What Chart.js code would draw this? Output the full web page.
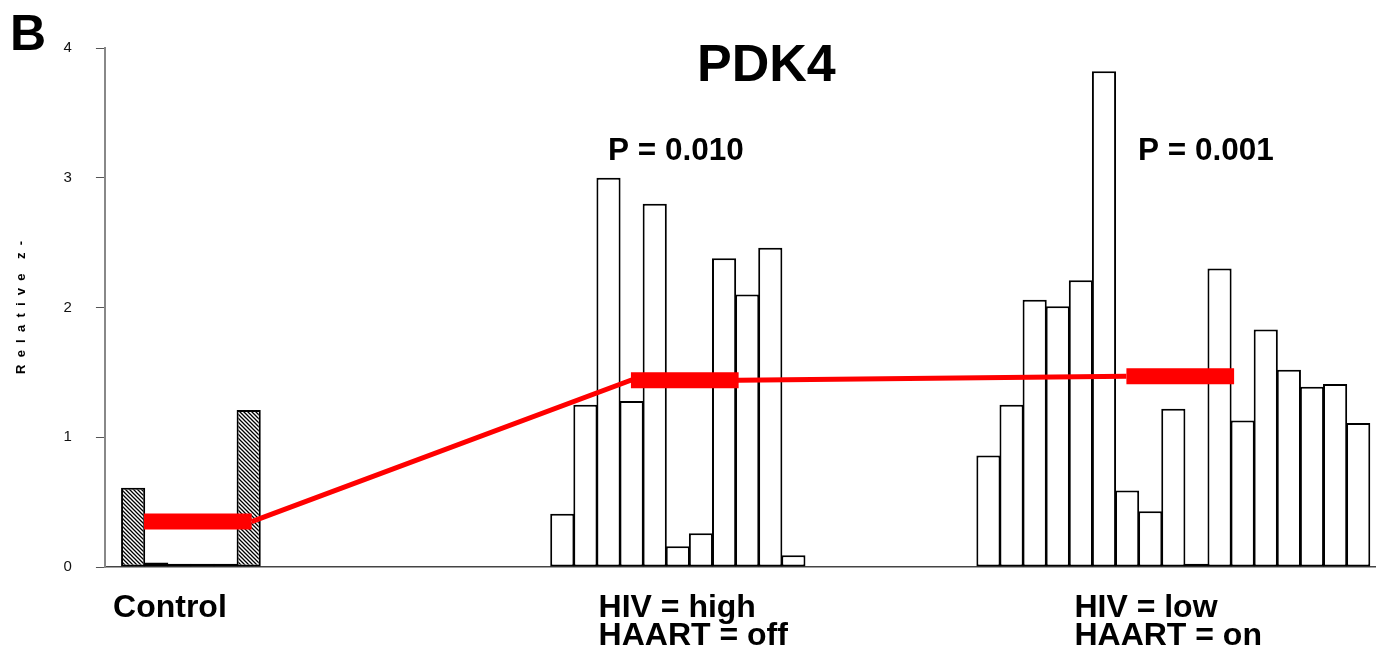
<!DOCTYPE html>
<html>
<head>
<meta charset="utf-8">
<script src="https://cdn.jsdelivr.net/npm/chart.js@4.4.1/dist/chart.umd.min.js"></script>
<style>
  html, body { margin: 0; padding: 0; background: #fff; }
  #wrap { width: 1376px; height: 653px; position: relative; }
</style>
</head>
<body>
<div id="wrap"><canvas id="pdk4"></canvas></div>
<script>
// values (relative z-score per subject)
const controlValues = [0.61, 0.035, 0.025, 0.025, 0.025, 1.21];
const hivHighValues = [0.41, 1.25, 3.00, 1.28, 2.80, 0.16, 0.26, 2.38, 2.10, 2.46, 0.09];
const hivLowValues = [0.86, 1.25, 2.06, 2.01, 2.21, 3.82, 0.59, 0.43, 1.22, 0.025, 2.30, 1.13, 1.83, 1.52, 1.39, 1.41, 1.11];
const groupMeans = [0.35, 1.44, 1.47];
// where each group of bars starts on the x axis (one unit = one bar)
const groupStart = [0.72, 19.29, 37.73];
const groupLabels = [['Control'], ['HIV = high', 'HAART = off'], ['HIV = low', 'HAART = on']];
const pValues = ['P = 0.010', 'P = 0.001'];
const yTicks = [0, 1, 2, 3, 4];

Chart.defaults.font.family = '"Liberation Sans", Arial, sans-serif';
Chart.defaults.color = '#000';

// hatch for the control bars
const hatch = (() => {
  const c = document.createElement('canvas');
  c.width = 4; c.height = 4;
  const g = c.getContext('2d');
  g.fillStyle = '#fff';
  g.fillRect(0, 0, 4, 4);
  g.strokeStyle = '#000';
  g.lineWidth = 1.3;
  g.beginPath();
  g.moveTo(-1, -1); g.lineTo(5, 5);
  g.moveTo(-1, 3); g.lineTo(1, 5);
  g.moveTo(3, -1); g.lineTo(5, 1);
  g.stroke();
  return g.createPattern(c, 'repeat');
})();

const groups = [controlValues, hivHighValues, hivLowValues];
const toPoints = (vals, start) => vals.map((v, i) => ({ x: start + i + 0.5, y: v }));

// mean bars, centred on each group
const half = 2.33;
const centres = groups.map((g, i) => groupStart[i] + g.length / 2 + 0.3);
const thickPts = [];
centres.forEach((c, i) => {
  thickPts.push({ x: c - half, y: groupMeans[i] }, { x: c + half, y: groupMeans[i] }, { x: c + half + 1, y: null });
});
const thinPts = [
  { x: centres[0] + half, y: groupMeans[0] },
  { x: centres[1] - half, y: groupMeans[1] },
  { x: centres[1] + half, y: groupMeans[1] },
  { x: centres[2] - half, y: groupMeans[2] }
];

const barStyle = { borderColor: '#000', borderWidth: 2, borderSkipped: false, order: 2 };

const textPlugin = {
  id: 'figText',
  afterDraw(chart) {
    const ctx = chart.ctx;
    ctx.save();
    ctx.fillStyle = '#000';
    ctx.textAlign = 'left';
    ctx.textBaseline = 'alphabetic';
    ctx.font = 'bold 50px "Liberation Sans", Arial, sans-serif';
    ctx.fillText('B', 10, 50);
    ctx.font = 'bold 52px "Liberation Sans", Arial, sans-serif';
    ctx.fillText('PDK4', 697, 81);
    ctx.font = 'bold 31.5px "Liberation Sans", Arial, sans-serif';
    ctx.fillText(pValues[0], 608, 160);
    ctx.fillText(pValues[1], 1138, 160);
    ctx.restore();
  }
};

new Chart(document.getElementById('pdk4'), {
  type: 'bar',
  data: {
    datasets: [
      { type: 'line', data: thickPts, borderColor: '#ff0000', borderWidth: 16, borderCapStyle: 'butt',
        pointRadius: 0, spanGaps: false, order: 0 },
      { type: 'line', data: thinPts, borderColor: '#ff0000', borderWidth: 5, borderCapStyle: 'butt',
        pointRadius: 0, order: 1 },
      Object.assign({ data: toPoints(controlValues, groupStart[0]), backgroundColor: hatch }, barStyle),
      Object.assign({ data: toPoints(hivHighValues, groupStart[1]), backgroundColor: '#fff' }, barStyle),
      Object.assign({ data: toPoints(hivLowValues, groupStart[2]), backgroundColor: '#fff' }, barStyle)
    ]
  },
  options: {
    responsive: true,
    maintainAspectRatio: false,
    animation: false,
    datasets: { bar: { grouped: false, barPercentage: 1.045, categoryPercentage: 1 } },
    layout: { padding: { left: 10, top: 48, right: 0, bottom: 0 } },
    plugins: { legend: { display: false }, tooltip: { enabled: false } },
    scales: {
      x: {
        type: 'linear',
        min: 0,
        max: 55,
        offset: false,
        grid: { display: false, drawTicks: false },
        border: { display: true, color: '#444', width: 1.5 },
        afterBuildTicks: s => { s.ticks = [{ value: 0.35 }, { value: 21.36 }, { value: 41.95 }]; },
        afterFit: s => { s.height = 86; },
        ticks: {
          autoSkip: false,
          maxRotation: 0,
          align: 'start',
          padding: 27,
          color: '#000',
          font: { size: 32, weight: 'bold', lineHeight: 0.87 },
          callback: (v, i) => groupLabels[i]
        }
      },
      y: {
        min: 0,
        max: 4,
        afterBuildTicks: s => { s.ticks = yTicks.map(v => ({ value: v })); },
        grid: { display: true, drawOnChartArea: false, drawTicks: true, tickLength: 9, tickColor: '#555' },
        border: { display: true, color: '#888', width: 2 },
        ticks: { padding: 24, color: '#111', font: { size: 15 } },
        title: {
          display: true,
          text: 'R  e  l  a  t  i  v  e    z  -',
          font: { size: 13, weight: 'bold' },
          padding: { top: 4, bottom: 10 }
        }
      }
    }
  },
  plugins: [textPlugin]
});
</script>
</body>
</html>
